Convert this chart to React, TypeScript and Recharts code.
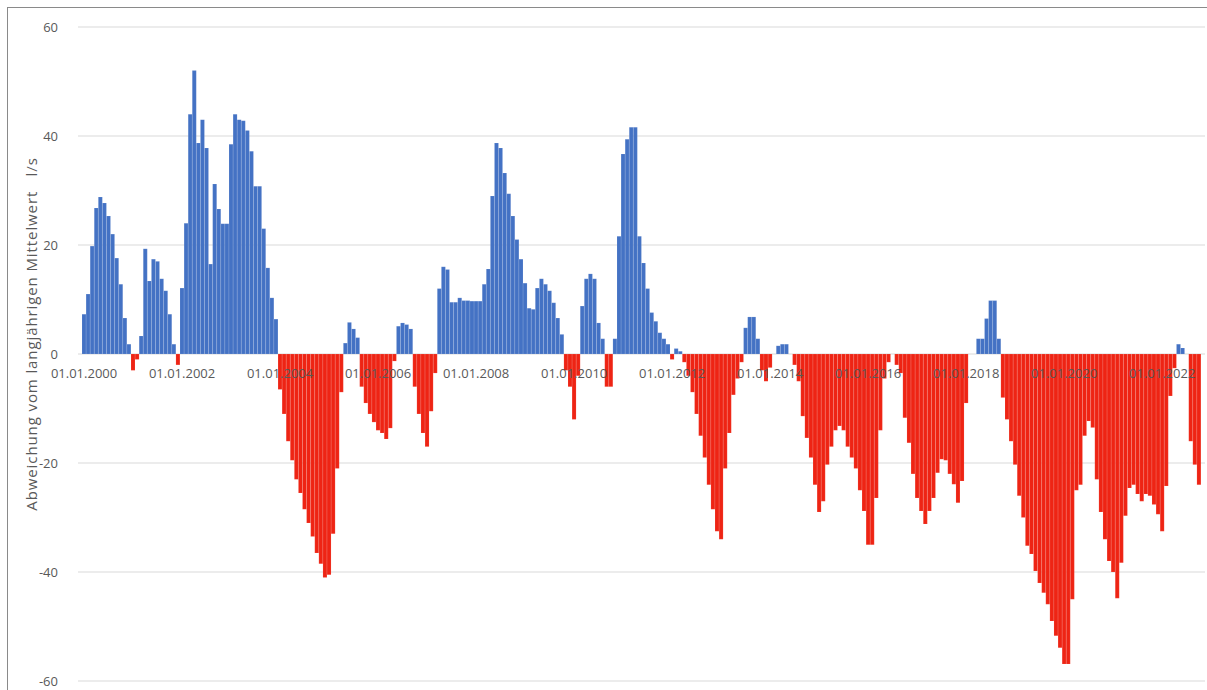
import React from 'react';
import { BarChart, Bar, XAxis, YAxis, CartesianGrid, Cell } from 'recharts';

// ---- data (monthly deviation from long-term mean, l/s) ----
const START_YEAR = 2000;
const tickLabels = [
  '01.01.2000', '01.01.2002', '01.01.2004', '01.01.2006', '01.01.2008', '01.01.2010',
  '01.01.2012', '01.01.2014', '01.01.2016', '01.01.2018', '01.01.2020', '01.01.2022',
];
const yTicks = [-60, -40, -20, 0, 20, 40, 60];

const dev2000 = [7.3, 11, 19.8, 26.8, 28.8, 27.7, 25.3, 22, 17.6, 12.8, 6.6, 1.8];
const dev2001 = [-3, -1, 3.3, 19.3, 13.4, 17.4, 17, 13.8, 11.6, 7.3, 1.8, -2];
const dev2002 = [12.1, 24, 44, 52, 38.7, 43, 37.8, 16.5, 31.2, 26.6, 23.9, 23.9];
const dev2003 = [38.5, 44, 43, 42.8, 41, 37.2, 30.8, 30.8, 23, 15.8, 10.3, 6.4];
const dev2004 = [-6.5, -11, -16, -19.5, -23, -25.5, -28.5, -31, -33.5, -36.5, -38.5, -41];
const dev2005 = [-40.5, -33, -21, -7, 2, 5.8, 4.6, 3, -6, -9, -11, -12.5];
const dev2006 = [-14, -14.5, -15.6, -13.6, -1.3, 5.1, 5.7, 5.4, 4.6, -6, -11, -14.5];
const dev2007 = [-17, -10.5, -3.5, 12, 16, 15.5, 9.5, 9.5, 10.3, 9.8, 9.8, 9.7];
const dev2008 = [9.7, 9.7, 12.8, 15.6, 29, 38.7, 37.8, 33.2, 29.4, 25.3, 21, 17.4];
const dev2009 = [13, 8.4, 8.2, 12.1, 13.8, 12.8, 11.6, 9.4, 6.6, 3.6, -3, -6];
const dev2010 = [-12, -4, 8.8, 13.8, 14.7, 13.8, 5.7, 2.8, -6, -6, 2.8, 21.6];
const dev2011 = [36.7, 39.4, 41.6, 41.6, 21.6, 16.7, 12, 7.6, 6, 3.9, 2.8, 1.8];
const dev2012 = [-1, 1, 0.5, -1.5, -4, -7, -11, -15, -19, -24, -28.5, -32.5];
const dev2013 = [-34, -21, -14.5, -7.5, -4.5, -1.5, 4.8, 6.8, 6.8, 2.8, -3, -5];
const dev2014 = [-2.5, 0, 1.5, 1.8, 1.8, 0, -2, -5, -11.4, -15.4, -19, -24];
const dev2015 = [-29, -27, -20.3, -17, -14, -13.2, -14, -17, -19, -21, -25, -28.8];
const dev2016 = [-35, -35, -26.4, -14, -4.5, -1.5, 0, -2, -3.5, -11.7, -16.3, -22];
const dev2017 = [-26.4, -28.8, -31.2, -28.8, -26.4, -21.8, -19.3, -19.5, -22, -23.9, -27.3, -23.3];
const dev2018 = [-9, 0, 0, 2.8, 2.8, 6.5, 9.8, 9.8, 2.8, -8, -12, -16];
const dev2019 = [-20.3, -26, -30, -35.2, -36.7, -39.8, -42, -43.8, -45.9, -49, -51.7, -53.9];
const dev2020 = [-56.9, -56.9, -45, -25, -24, -15, -12.3, -13.5, -23, -29, -34, -38];
const dev2021 = [-40, -44.8, -38.3, -29.7, -24.6, -24, -25.7, -27, -25.7, -26, -27.6, -29.4];
const dev2022 = [-32.5, -24.2, -7.7, -2.6, 1.8, 1.1, 0, -16, -20.3, -24];

const deviation = [
  ...dev2000, ...dev2001, ...dev2002, ...dev2003, ...dev2004, ...dev2005,
  ...dev2006, ...dev2007, ...dev2008, ...dev2009, ...dev2010, ...dev2011,
  ...dev2012, ...dev2013, ...dev2014, ...dev2015, ...dev2016, ...dev2017,
  ...dev2018, ...dev2019, ...dev2020, ...dev2021, ...dev2022,
];

const months = deviation.map((_, i) => {
  const y = START_YEAR + Math.floor(i / 12);
  const m = (i % 12) + 1;
  return `01.${m < 10 ? '0' + m : m}.${y}`;
});

const data = months.map((month, i) => ({ month, value: deviation[i] }));

// ---- layout / style ----
const W = 1207;
const H = 690;
const MARGIN = { top: 27, right: 2, bottom: 8, left: 8 };
const X_AXIS_H = 1;
const Y_AXIS_W = 70;
const Y_MIN = -60;
const Y_MAX = 60;
const PLOT_H = H - MARGIN.top - MARGIN.bottom - X_AXIS_H;
const ZERO_Y = MARGIN.top + (PLOT_H * Y_MAX) / (Y_MAX - Y_MIN);

const BLUE = '#4472C4';
const RED = '#EE2414';
const TEXT = '#595959';
const FONT = '"Open Sans", "Liberation Sans", Arial, sans-serif';

function DateTick(props: any) {
  const { x, payload } = props;
  if (!tickLabels.includes(payload.value)) return null;
  return (
    <text x={x} y={ZERO_Y + 24} textAnchor="middle" fontSize={13} fill={TEXT} fontFamily={FONT}>
      {payload.value}
    </text>
  );
}

function AxisTitle(props: any) {
  const vb = props.viewBox || {};
  const cx = (vb.x ?? 0) + 25;
  const cy = (vb.y ?? 0) + (vb.height ?? 0) / 2 - 20;
  return (
    <text
      x={cx}
      y={cy}
      transform={`rotate(-90, ${cx}, ${cy})`}
      textAnchor="middle"
      dominantBaseline="middle"
      fontSize={15}
      letterSpacing={0.9}
      fill={TEXT}
      fontFamily={FONT}
      style={{ whiteSpace: 'pre' }}
    >
      {'Abweichung vom langjährigen Mittelwert   l/s'}
    </text>
  );
}

export default function App() {
  return (
    <div style={{ position: 'relative', width: W, height: H, overflow: 'hidden', background: '#fff' }}>
      <style>{'body{margin:0;background:#fff;}'}</style>
      <div
        style={{
          position: 'absolute',
          left: 7,
          top: 7,
          width: W,
          height: H,
          borderLeft: '1px solid #8a8a8a',
          borderTop: '1px solid #8a8a8a',
          boxSizing: 'border-box',
        }}
      />
      <div style={{ position: 'absolute', left: 0, top: 0 }}>
        <BarChart width={W} height={H} data={data} margin={MARGIN} barCategoryGap={0} barGap={0}>
          <CartesianGrid vertical={false} stroke="#d9d9d9" strokeWidth={1} />
          <YAxis
            domain={[Y_MIN, Y_MAX]}
            ticks={yTicks}
            width={Y_AXIS_W}
            axisLine={false}
            tickLine={false}
            tickSize={6}
            tickMargin={14}
            tick={{ fontSize: 13, fill: TEXT, fontFamily: FONT }}
            label={<AxisTitle />}
          />
          <Bar dataKey="value" isAnimationActive={false}>
            {data.map((d, i) => (
              <Cell
                key={i}
                fill={d.value >= 0 ? BLUE : RED}
                stroke="#ffffff"
                strokeOpacity={0.2}
                strokeWidth={0.5}
              />
            ))}
          </Bar>
          <XAxis
            dataKey="month"
            interval={0}
            height={X_AXIS_H}
            padding={{ left: 4, right: 4 }}
            axisLine={false}
            tickLine={false}
            tick={<DateTick />}
          />
        </BarChart>
      </div>
    </div>
  );
}
